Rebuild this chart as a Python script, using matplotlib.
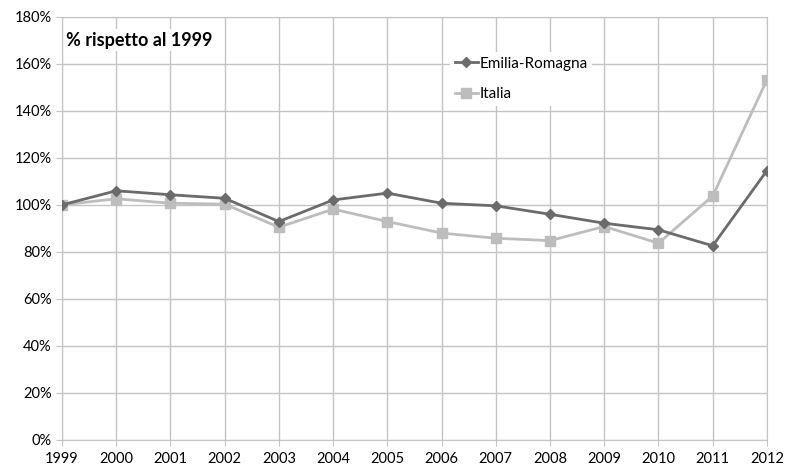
import matplotlib.pyplot as plt
from matplotlib.ticker import FuncFormatter

# dati (% rispetto al 1999)
anni = [1999, 2000, 2001, 2002, 2003, 2004, 2005, 2006, 2007, 2008, 2009, 2010, 2011, 2012]
emilia_romagna = [100, 106, 104.3, 102.8, 92.9, 102.1, 105, 100.7, 99.6, 96, 92.2, 89.4, 82.6, 114.6]
italia = [100, 102.6, 100.7, 100.3, 90.5, 98.2, 92.9, 88, 85.8, 84.8, 90.8, 83.7, 103.8, 153.2]

plt.rcParams['font.family'] = ['Lato', 'DejaVu Sans']

fig = plt.figure(figsize=(7.85, 4.68), dpi=100)
ax = fig.add_axes([0.079, 0.06, 0.898, 0.904])

ax.plot(anni, emilia_romagna, color='#6b6b6b', lw=2, marker='D', ms=5, label='Emilia-Romagna', zorder=3)
ax.plot(anni, italia, color='#bdbdbd', lw=2, marker='s', ms=6.5, label='Italia', zorder=2)

ax.set_xlim(1999, 2012)
ax.set_ylim(0, 180)
ax.set_xticks(anni)
ax.set_yticks(range(0, 181, 20))
ax.yaxis.set_major_formatter(FuncFormatter(lambda v, p: f'{int(v)}%'))
ax.grid(True, color='#c4c4c4', lw=1)
ax.set_axisbelow(True)
for s in ax.spines.values():
    s.set_color('#c4c4c4')
ax.tick_params(colors='#c4c4c4', labelcolor='black', labelsize=10.5, length=4)
ax.tick_params(axis='x', pad=5)

ax.text(0.006, 0.932, '% rispetto al 1999', transform=ax.transAxes, fontsize=13, fontweight='bold',
        bbox=dict(facecolor='white', edgecolor='none', pad=2))

leg = ax.legend(loc='upper left', bbox_to_anchor=(0.54, 0.935), frameon=True, fontsize=11,
                handlelength=1.5, handletextpad=0.1, labelspacing=1.1, borderpad=0.3)
leg.get_frame().set_edgecolor('none')
leg.get_frame().set_facecolor('white')
leg.get_frame().set_alpha(1)

fig.savefig('out.png', dpi=100)
